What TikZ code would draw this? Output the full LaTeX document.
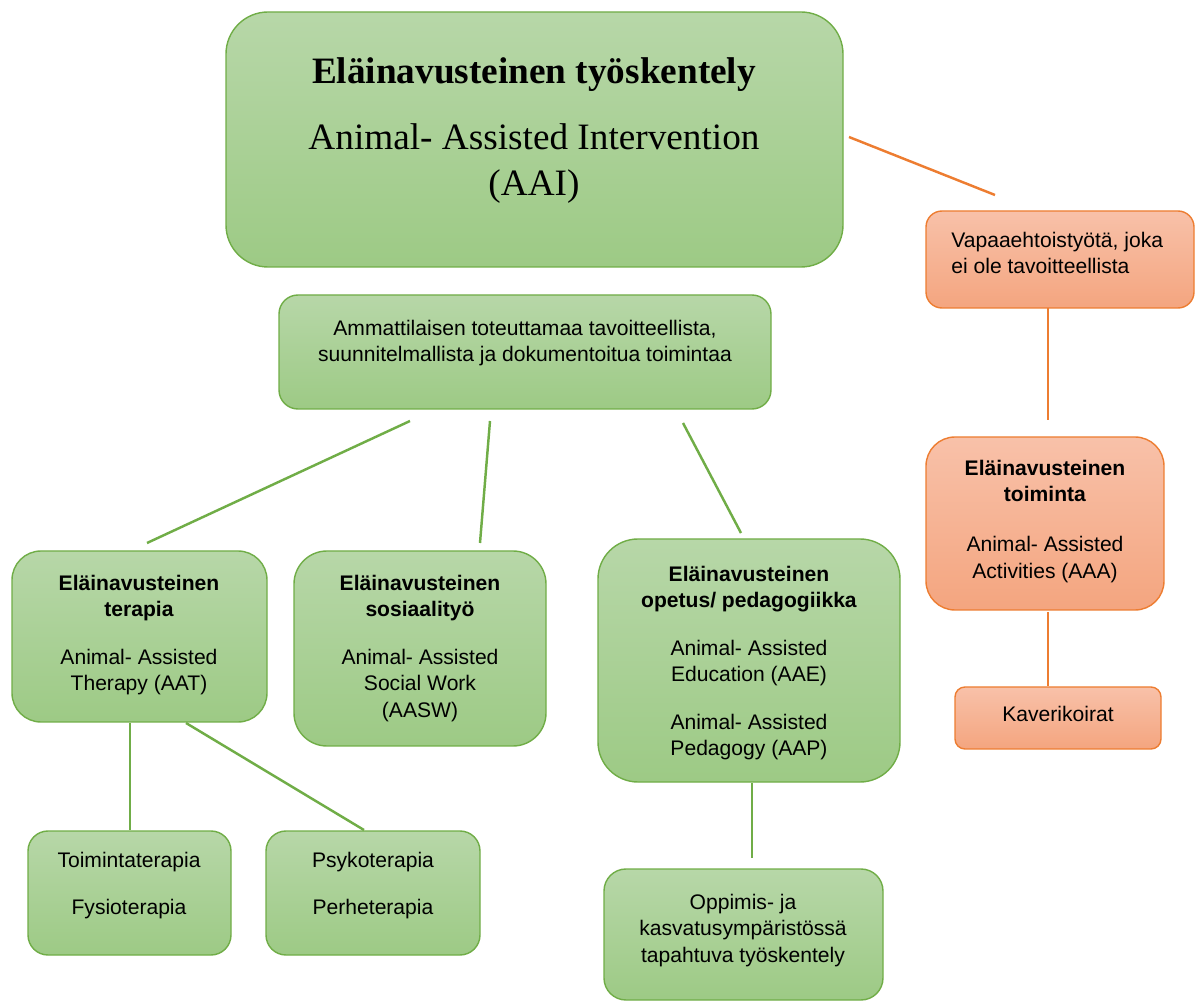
\documentclass[tikz,border=0pt]{standalone}
\usepackage{fontspec}
\setmainfont{Liberation Sans}
\newfontfamily\serifhead{Liberation Serif}
\usepackage{tikz}
\usetikzlibrary{fit}
\definecolor{grtop}{HTML}{B7D7A8}
\definecolor{grbot}{HTML}{9DCA85}
\definecolor{grline}{HTML}{70AD47}
\definecolor{ortop}{HTML}{F8C1A9}
\definecolor{orbot}{HTML}{F4A57F}
\definecolor{orline}{HTML}{ED7D31}
\def\u{0.02cm}

\begin{document}
\begin{tikzpicture}[x=0.02cm,y=-0.02cm,
	box/.style={draw=#1line,line width=0.8pt,top color=#1top,bottom color=#1bot,inner sep=0pt},
	txt/.style={anchor=north,inner sep=0pt,align=center,font=\fontsize{12}{15}\selectfont},
	link/.style={draw=#1line,line width=1.4pt}]
\useasboundingbox (0,0) rectangle (1198,1003);

%boxes
\foreach \n/\c/\r/\xa/\ya/\xb/\yb in {
	top/gr/42/226/12/843/267, amm/gr/19/279/295/771/409,
	vap/or/16/926/211/1194/308, toim/or/29/926/437/1164/610, kav/or/10/955/687/1161/749,
	ter/gr/29/12/551/267/722, sos/gr/33/294/551/546/746, ope/gr/40/598/539/900/782,
	toi/gr/20/28/831/231/955, psy/gr/20/266/831/480/955, opp/gr/22/604/869/883/1000}
	\node[box=\c,rounded corners=\r*\u,fit={(\xa,\ya) (\xb,\yb)}] (\n) {};

%texts
\node[txt,font=\serifhead\fontsize{21.2}{26.4}\selectfont] (topT) at (534,57)
	{\textbf{Eläinavusteinen työskentely}\\[0.4cm] Animal- Assisted Intervention\\ (AAI)};
\node[txt] (ammT) at (525,320)
	{Ammattilaisen toteuttamaa tavoitteellista,\\ suunnitelmallista ja dokumentoitua toimintaa};
\node[txt,anchor=north west,align=left] (vapT) at (951,232)
	{Vapaaehtoistyötä, joka\\ ei ole tavoitteellista};
\node[txt] (toimT) at (1045,460)
	{\textbf{Eläinavusteinen}\\ \textbf{toiminta}\\[0.47cm] Animal- Assisted\\ Activities (AAA)};
\node[txt] (kavT) at (1058,706) {Kaverikoirat};
\node[txt] (terT) at (139,575)
	{\textbf{Eläinavusteinen}\\ \textbf{terapia}\\[0.42cm] Animal- Assisted\\ Therapy (AAT)};
\node[txt] (sosT) at (420,575)
	{\textbf{Eläinavusteinen}\\ \textbf{sosiaalityö}\\[0.42cm] Animal- Assisted\\ Social Work\\ (AASW)};
\node[txt] (opeT) at (749,566)
	{\textbf{Eläinavusteinen}\\ \textbf{opetus/ pedagogiikka}\\[0.42cm] Animal- Assisted\\ Education (AAE)\\[0.42cm]
	Animal- Assisted\\ Pedagogy (AAP)};
\node[txt] (toiT) at (129,852) {Toimintaterapia\\[0.42cm] Fysioterapia};
\node[txt] (psyT) at (373,852) {Psykoterapia\\[0.42cm] Perheterapia};
\node[txt] (oppT) at (743,894) {Oppimis- ja\\ kasvatusympäristössä\\ tapahtuva työskentely};

%edges
\foreach \n/\x/\y in {
	o1a/849/137, o1b/995/195, o2a/1048/308, o2b/1048/420, o3a/1048/612, o3b/1048/686,
	g1a/410/421, g1b/147/543, g2a/490/421, g2b/480/543, g3a/683/423, g3b/741/533,
	g4a/130/723, g4b/130/830, g5a/186/723, g5b/364/830, g6a/752/783, g6b/752/858}
	\coordinate (\n) at (\x,\y);
\foreach \i in {1,2,3}
	\draw[link=or] (o\i a) -- (o\i b);
\foreach \i in {1,...,6}
	\draw[link=gr] (g\i a) -- (g\i b);
\end{tikzpicture}
\end{document}
